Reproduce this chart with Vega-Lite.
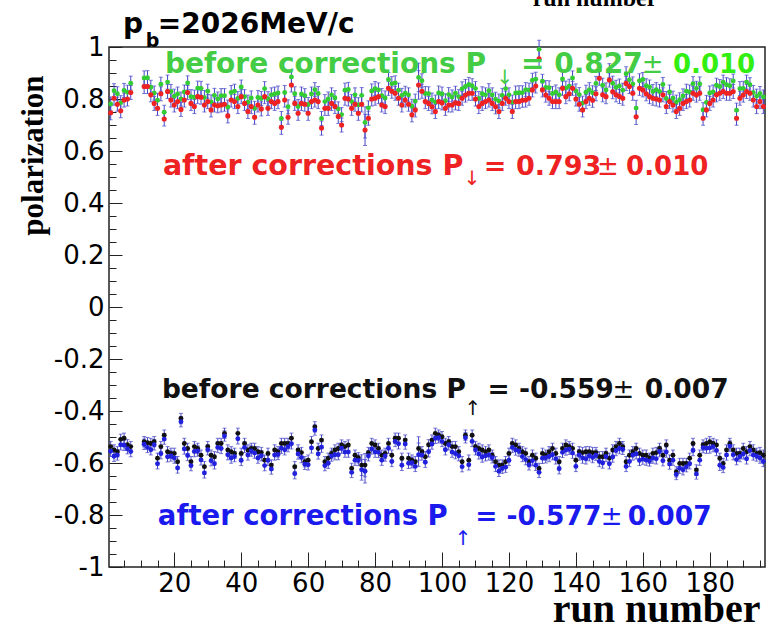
{
"$schema": "https://vega.github.io/schema/vega-lite/v6.json",
"width": 656, "height": 520,
"autosize": "none",
"padding": {"left": 109, "top": 47, "right": 2, "bottom": 63},
"background": "white",
"config": {"view": {"stroke": "#222222", "strokeWidth": 1.5}, "font": "DejaVu Sans"},
"datasets": {"runs": [
{"n":1,"g":0.781,"r":0.747,"k":-0.537,"b":-0.555,"et":0.027,"eb":0.02},
{"n":2,"g":0.832,"r":0.803,"k":-0.550,"b":-0.574,"et":0.027,"eb":0.02},
{"n":3,"g":0.820,"r":0.780,"k":-0.557,"b":-0.569,"et":0.027,"eb":0.02},
{"n":4,"g":0.786,"r":0.755,"k":-0.509,"b":-0.530,"et":0.027,"eb":0.02},
{"n":5,"g":0.833,"r":0.796,"k":-0.505,"b":-0.532,"et":0.027,"eb":0.02},
{"n":6,"g":0.826,"r":0.800,"k":-0.530,"b":-0.545,"et":0.027,"eb":0.02},
{"n":7,"g":0.861,"r":0.825,"k":-0.537,"b":-0.556,"et":0.027,"eb":0.02},
{"n":11,"g":0.881,"r":0.848,"k":-0.518,"b":-0.528,"et":0.027,"eb":0.02},
{"n":12,"g":0.882,"r":0.848,"k":-0.522,"b":-0.540,"et":0.027,"eb":0.02},
{"n":13,"g":0.845,"r":0.816,"k":-0.525,"b":-0.549,"et":0.027,"eb":0.02},
{"n":14,"g":0.823,"r":0.783,"k":-0.518,"b":-0.530,"et":0.027,"eb":0.02},
{"n":15,"g":0.795,"r":0.764,"k":-0.582,"b":-0.603,"et":0.027,"eb":0.02},
{"n":16,"g":0.857,"r":0.820,"k":-0.537,"b":-0.564,"et":0.027,"eb":0.02},
{"n":17,"g":0.749,"r":0.723,"k":-0.493,"b":-0.508,"et":0.027,"eb":0.02},
{"n":18,"g":0.865,"r":0.829,"k":-0.557,"b":-0.576,"et":0.027,"eb":0.02},
{"n":19,"g":0.829,"r":0.796,"k":-0.563,"b":-0.573,"et":0.027,"eb":0.02},
{"n":20,"g":0.811,"r":0.777,"k":-0.563,"b":-0.581,"et":0.027,"eb":0.02},
{"n":21,"g":0.819,"r":0.790,"k":-0.595,"b":-0.619,"et":0.027,"eb":0.02},
{"n":22,"g":0.800,"r":0.760,"k":-0.429,"b":-0.441,"et":0.027,"eb":0.02},
{"n":23,"g":0.827,"r":0.796,"k":-0.525,"b":-0.546,"et":0.027,"eb":0.02},
{"n":24,"g":0.862,"r":0.825,"k":-0.544,"b":-0.571,"et":0.027,"eb":0.02},
{"n":25,"g":0.809,"r":0.783,"k":-0.595,"b":-0.610,"et":0.027,"eb":0.02},
{"n":26,"g":0.807,"r":0.771,"k":-0.537,"b":-0.556,"et":0.027,"eb":0.02},
{"n":27,"g":0.842,"r":0.809,"k":-0.544,"b":-0.554,"et":0.027,"eb":0.02},
{"n":28,"g":0.841,"r":0.807,"k":-0.570,"b":-0.588,"et":0.027,"eb":0.02},
{"n":29,"g":0.806,"r":0.777,"k":-0.614,"b":-0.638,"et":0.027,"eb":0.02},
{"n":30,"g":0.830,"r":0.790,"k":-0.537,"b":-0.549,"et":0.027,"eb":0.02},
{"n":31,"g":0.789,"r":0.758,"k":-0.570,"b":-0.591,"et":0.027,"eb":0.02},
{"n":32,"g":0.814,"r":0.777,"k":-0.576,"b":-0.603,"et":0.027,"eb":0.02},
{"n":33,"g":0.800,"r":0.774,"k":-0.525,"b":-0.540,"et":0.027,"eb":0.02},
{"n":34,"g":0.813,"r":0.777,"k":-0.525,"b":-0.544,"et":0.027,"eb":0.02},
{"n":35,"g":0.813,"r":0.780,"k":-0.486,"b":-0.496,"et":0.027,"eb":0.02},
{"n":36,"g":0.769,"r":0.735,"k":-0.550,"b":-0.568,"et":0.027,"eb":0.02},
{"n":37,"g":0.825,"r":0.796,"k":-0.557,"b":-0.581,"et":0.027,"eb":0.02},
{"n":38,"g":0.830,"r":0.790,"k":-0.563,"b":-0.575,"et":0.027,"eb":0.02},
{"n":39,"g":0.802,"r":0.771,"k":-0.486,"b":-0.507,"et":0.027,"eb":0.02},
{"n":40,"g":0.846,"r":0.809,"k":-0.563,"b":-0.590,"et":0.027,"eb":0.02},
{"n":41,"g":0.809,"r":0.783,"k":-0.525,"b":-0.540,"et":0.027,"eb":0.02},
{"n":42,"g":0.788,"r":0.752,"k":-0.550,"b":-0.569,"et":0.027,"eb":0.02},
{"n":43,"g":0.804,"r":0.771,"k":-0.544,"b":-0.554,"et":0.027,"eb":0.02},
{"n":44,"g":0.764,"r":0.730,"k":-0.544,"b":-0.562,"et":0.027,"eb":0.02},
{"n":45,"g":0.806,"r":0.777,"k":-0.557,"b":-0.581,"et":0.027,"eb":0.02},
{"n":46,"g":0.802,"r":0.762,"k":-0.560,"b":-0.572,"et":0.027,"eb":0.02},
{"n":47,"g":0.840,"r":0.809,"k":-0.589,"b":-0.610,"et":0.027,"eb":0.02},
{"n":48,"g":0.801,"r":0.764,"k":-0.563,"b":-0.590,"et":0.027,"eb":0.02},
{"n":49,"g":0.816,"r":0.790,"k":-0.608,"b":-0.623,"et":0.027,"eb":0.02},
{"n":50,"g":0.819,"r":0.783,"k":-0.550,"b":-0.569,"et":0.027,"eb":0.02},
{"n":51,"g":0.823,"r":0.790,"k":-0.557,"b":-0.567,"et":0.027,"eb":0.02},
{"n":52,"g":0.725,"r":0.691,"k":-0.525,"b":-0.543,"et":0.027,"eb":0.02},
{"n":53,"g":0.825,"r":0.796,"k":-0.525,"b":-0.549,"et":0.027,"eb":0.02},
{"n":54,"g":0.770,"r":0.730,"k":-0.525,"b":-0.537,"et":0.027,"eb":0.02},
{"n":55,"g":0.885,"r":0.854,"k":-0.505,"b":-0.526,"et":0.027,"eb":0.02},
{"n":56,"g":0.820,"r":0.783,"k":-0.614,"b":-0.641,"et":0.027,"eb":0.02},
{"n":57,"g":0.771,"r":0.745,"k":-0.550,"b":-0.565,"et":0.027,"eb":0.02},
{"n":58,"g":0.819,"r":0.783,"k":-0.560,"b":-0.579,"et":0.027,"eb":0.02},
{"n":59,"g":0.813,"r":0.780,"k":-0.595,"b":-0.605,"et":0.027,"eb":0.02},
{"n":60,"g":0.779,"r":0.745,"k":-0.589,"b":-0.607,"et":0.027,"eb":0.02},
{"n":61,"g":0.819,"r":0.790,"k":-0.518,"b":-0.542,"et":0.027,"eb":0.02},
{"n":62,"g":0.836,"r":0.796,"k":-0.461,"b":-0.473,"et":0.027,"eb":0.02},
{"n":63,"g":0.821,"r":0.790,"k":-0.544,"b":-0.565,"et":0.027,"eb":0.02},
{"n":64,"g":0.725,"r":0.688,"k":-0.512,"b":-0.539,"et":0.027,"eb":0.02},
{"n":65,"g":0.790,"r":0.764,"k":-0.595,"b":-0.610,"et":0.027,"eb":0.02},
{"n":66,"g":0.800,"r":0.764,"k":-0.582,"b":-0.601,"et":0.027,"eb":0.02},
{"n":67,"g":0.816,"r":0.783,"k":-0.563,"b":-0.573,"et":0.027,"eb":0.02},
{"n":68,"g":0.805,"r":0.771,"k":-0.550,"b":-0.568,"et":0.027,"eb":0.02},
{"n":69,"g":0.762,"r":0.733,"k":-0.544,"b":-0.568,"et":0.027,"eb":0.02},
{"n":70,"g":0.740,"r":0.700,"k":-0.531,"b":-0.543,"et":0.027,"eb":0.02},
{"n":71,"g":0.834,"r":0.803,"k":-0.537,"b":-0.558,"et":0.027,"eb":0.02},
{"n":72,"g":0.837,"r":0.800,"k":-0.531,"b":-0.558,"et":0.027,"eb":0.02},
{"n":73,"g":0.790,"r":0.764,"k":-0.621,"b":-0.636,"et":0.027,"eb":0.02},
{"n":74,"g":0.816,"r":0.780,"k":-0.570,"b":-0.589,"et":0.027,"eb":0.02},
{"n":75,"g":0.778,"r":0.745,"k":-0.580,"b":-0.590,"et":0.027,"eb":0.02},
{"n":76,"g":0.814,"r":0.780,"k":-0.608,"b":-0.626,"et":0.03,"eb":0.04},
{"n":77,"g":0.710,"r":0.681,"k":-0.608,"b":-0.632,"et":0.06,"eb":0.045},
{"n":78,"g":0.766,"r":0.726,"k":-0.560,"b":-0.572,"et":0.027,"eb":0.02},
{"n":79,"g":0.831,"r":0.800,"k":-0.525,"b":-0.546,"et":0.027,"eb":0.02},
{"n":80,"g":0.840,"r":0.803,"k":-0.531,"b":-0.558,"et":0.027,"eb":0.02},
{"n":81,"g":0.835,"r":0.809,"k":-0.544,"b":-0.559,"et":0.027,"eb":0.02},
{"n":82,"g":0.813,"r":0.777,"k":-0.570,"b":-0.589,"et":0.027,"eb":0.02},
{"n":83,"g":0.804,"r":0.771,"k":-0.563,"b":-0.573,"et":0.027,"eb":0.02},
{"n":84,"g":0.875,"r":0.841,"k":-0.525,"b":-0.543,"et":0.027,"eb":0.02},
{"n":85,"g":0.859,"r":0.830,"k":-0.570,"b":-0.594,"et":0.027,"eb":0.02},
{"n":86,"g":0.862,"r":0.822,"k":-0.505,"b":-0.517,"et":0.027,"eb":0.02},
{"n":87,"g":0.834,"r":0.803,"k":-0.505,"b":-0.526,"et":0.027,"eb":0.02},
{"n":88,"g":0.814,"r":0.777,"k":-0.582,"b":-0.609,"et":0.027,"eb":0.02},
{"n":89,"g":0.822,"r":0.796,"k":-0.512,"b":-0.527,"et":0.027,"eb":0.02},
{"n":90,"g":0.816,"r":0.780,"k":-0.582,"b":-0.601,"et":0.027,"eb":0.02},
{"n":91,"g":0.772,"r":0.739,"k":-0.589,"b":-0.599,"et":0.027,"eb":0.02},
{"n":92,"g":0.792,"r":0.758,"k":-0.595,"b":-0.613,"et":0.027,"eb":0.02},
{"n":93,"g":0.883,"r":0.854,"k":-0.544,"b":-0.568,"et":0.055,"eb":0.045},
{"n":94,"g":0.870,"r":0.830,"k":-0.557,"b":-0.569,"et":0.027,"eb":0.02},
{"n":95,"g":0.821,"r":0.790,"k":-0.576,"b":-0.597,"et":0.027,"eb":0.02},
{"n":96,"g":0.820,"r":0.783,"k":-0.530,"b":-0.557,"et":0.027,"eb":0.02},
{"n":97,"g":0.796,"r":0.770,"k":-0.512,"b":-0.527,"et":0.027,"eb":0.02},
{"n":98,"g":0.788,"r":0.752,"k":-0.486,"b":-0.505,"et":0.027,"eb":0.02},
{"n":99,"g":0.823,"r":0.790,"k":-0.493,"b":-0.503,"et":0.027,"eb":0.02},
{"n":100,"g":0.819,"r":0.785,"k":-0.499,"b":-0.517,"et":0.027,"eb":0.02},
{"n":101,"g":0.793,"r":0.764,"k":-0.525,"b":-0.549,"et":0.027,"eb":0.02},
{"n":102,"g":0.817,"r":0.777,"k":-0.518,"b":-0.530,"et":0.027,"eb":0.02},
{"n":103,"g":0.808,"r":0.777,"k":-0.537,"b":-0.558,"et":0.027,"eb":0.02},
{"n":104,"g":0.822,"r":0.785,"k":-0.537,"b":-0.564,"et":0.027,"eb":0.02},
{"n":105,"g":0.809,"r":0.783,"k":-0.557,"b":-0.572,"et":0.027,"eb":0.02},
{"n":106,"g":0.839,"r":0.803,"k":-0.595,"b":-0.614,"et":0.027,"eb":0.02},
{"n":107,"g":0.848,"r":0.815,"k":-0.493,"b":-0.503,"et":0.027,"eb":0.02},
{"n":108,"g":0.856,"r":0.822,"k":-0.589,"b":-0.607,"et":0.027,"eb":0.02},
{"n":109,"g":0.851,"r":0.822,"k":-0.493,"b":-0.517,"et":0.027,"eb":0.02},
{"n":110,"g":0.840,"r":0.800,"k":-0.537,"b":-0.549,"et":0.027,"eb":0.02},
{"n":111,"g":0.802,"r":0.771,"k":-0.544,"b":-0.565,"et":0.027,"eb":0.02},
{"n":112,"g":0.820,"r":0.783,"k":-0.550,"b":-0.577,"et":0.027,"eb":0.02},
{"n":113,"g":0.816,"r":0.790,"k":-0.557,"b":-0.572,"et":0.027,"eb":0.02},
{"n":114,"g":0.832,"r":0.796,"k":-0.550,"b":-0.569,"et":0.027,"eb":0.02},
{"n":115,"g":0.816,"r":0.783,"k":-0.570,"b":-0.580,"et":0.027,"eb":0.02},
{"n":116,"g":0.799,"r":0.770,"k":-0.595,"b":-0.613,"et":0.027,"eb":0.02},
{"n":117,"g":0.792,"r":0.752,"k":-0.608,"b":-0.632,"et":0.027,"eb":0.02},
{"n":118,"g":0.814,"r":0.783,"k":-0.608,"b":-0.620,"et":0.027,"eb":0.02},
{"n":119,"g":0.840,"r":0.803,"k":-0.595,"b":-0.616,"et":0.027,"eb":0.02},
{"n":120,"g":0.816,"r":0.790,"k":-0.563,"b":-0.590,"et":0.027,"eb":0.02},
{"n":121,"g":0.788,"r":0.752,"k":-0.525,"b":-0.540,"et":0.027,"eb":0.02},
{"n":122,"g":0.823,"r":0.790,"k":-0.531,"b":-0.550,"et":0.027,"eb":0.02},
{"n":123,"g":0.824,"r":0.790,"k":-0.544,"b":-0.554,"et":0.027,"eb":0.02},
{"n":124,"g":0.824,"r":0.795,"k":-0.557,"b":-0.575,"et":0.027,"eb":0.02},
{"n":125,"g":0.836,"r":0.796,"k":-0.563,"b":-0.587,"et":0.027,"eb":0.02},
{"n":126,"g":0.834,"r":0.803,"k":-0.595,"b":-0.607,"et":0.027,"eb":0.02},
{"n":127,"g":0.872,"r":0.835,"k":-0.570,"b":-0.591,"et":0.027,"eb":0.02},
{"n":128,"g":0.876,"r":0.850,"k":-0.582,"b":-0.609,"et":0.027,"eb":0.02},
{"n":129,"g":0.991,"r":0.955,"k":-0.621,"b":-0.636,"et":0.035,"eb":0.02},
{"n":130,"g":0.868,"r":0.835,"k":-0.563,"b":-0.582,"et":0.027,"eb":0.02},
{"n":131,"g":0.844,"r":0.815,"k":-0.570,"b":-0.580,"et":0.027,"eb":0.02},
{"n":132,"g":0.843,"r":0.803,"k":-0.557,"b":-0.575,"et":0.027,"eb":0.02},
{"n":133,"g":0.821,"r":0.790,"k":-0.544,"b":-0.568,"et":0.027,"eb":0.02},
{"n":134,"g":0.827,"r":0.790,"k":-0.563,"b":-0.584,"et":0.027,"eb":0.02},
{"n":135,"g":0.816,"r":0.790,"k":-0.595,"b":-0.622,"et":0.027,"eb":0.02},
{"n":136,"g":0.877,"r":0.841,"k":-0.544,"b":-0.559,"et":0.027,"eb":0.02},
{"n":137,"g":0.842,"r":0.809,"k":-0.531,"b":-0.550,"et":0.027,"eb":0.02},
{"n":138,"g":0.849,"r":0.820,"k":-0.537,"b":-0.547,"et":0.027,"eb":0.02},
{"n":139,"g":0.881,"r":0.841,"k":-0.544,"b":-0.562,"et":0.027,"eb":0.02},
{"n":140,"g":0.831,"r":0.800,"k":-0.589,"b":-0.613,"et":0.027,"eb":0.02},
{"n":141,"g":0.817,"r":0.780,"k":-0.557,"b":-0.569,"et":0.027,"eb":0.02},
{"n":142,"g":0.784,"r":0.758,"k":-0.560,"b":-0.581,"et":0.027,"eb":0.02},
{"n":143,"g":0.826,"r":0.790,"k":-0.557,"b":-0.584,"et":0.027,"eb":0.02},
{"n":144,"g":0.836,"r":0.803,"k":-0.557,"b":-0.572,"et":0.027,"eb":0.02},
{"n":145,"g":0.824,"r":0.795,"k":-0.560,"b":-0.579,"et":0.027,"eb":0.02},
{"n":146,"g":0.860,"r":0.820,"k":-0.560,"b":-0.570,"et":0.027,"eb":0.02},
{"n":147,"g":0.911,"r":0.880,"k":-0.576,"b":-0.594,"et":0.027,"eb":0.02},
{"n":148,"g":0.853,"r":0.816,"k":-0.576,"b":-0.600,"et":0.027,"eb":0.02},
{"n":149,"g":0.835,"r":0.809,"k":-0.563,"b":-0.575,"et":0.027,"eb":0.02},
{"n":150,"g":0.909,"r":0.873,"k":-0.582,"b":-0.603,"et":0.027,"eb":0.02},
{"n":151,"g":0.861,"r":0.828,"k":-0.550,"b":-0.577,"et":0.027,"eb":0.02},
{"n":152,"g":0.845,"r":0.816,"k":-0.537,"b":-0.552,"et":0.027,"eb":0.02},
{"n":153,"g":0.850,"r":0.810,"k":-0.525,"b":-0.544,"et":0.027,"eb":0.02},
{"n":154,"g":0.834,"r":0.803,"k":-0.537,"b":-0.547,"et":0.027,"eb":0.02},
{"n":155,"g":0.897,"r":0.860,"k":-0.595,"b":-0.613,"et":0.027,"eb":0.02},
{"n":156,"g":0.874,"r":0.848,"k":-0.570,"b":-0.594,"et":0.027,"eb":0.02},
{"n":157,"g":0.858,"r":0.822,"k":-0.557,"b":-0.569,"et":0.027,"eb":0.02},
{"n":158,"g":0.765,"r":0.732,"k":-0.544,"b":-0.565,"et":0.03,"eb":0.02},
{"n":159,"g":0.870,"r":0.841,"k":-0.563,"b":-0.590,"et":0.027,"eb":0.02},
{"n":160,"g":0.875,"r":0.835,"k":-0.570,"b":-0.585,"et":0.027,"eb":0.02},
{"n":161,"g":0.851,"r":0.820,"k":-0.570,"b":-0.589,"et":0.027,"eb":0.02},
{"n":162,"g":0.846,"r":0.809,"k":-0.582,"b":-0.592,"et":0.027,"eb":0.02},
{"n":163,"g":0.829,"r":0.803,"k":-0.563,"b":-0.581,"et":0.027,"eb":0.02},
{"n":164,"g":0.836,"r":0.800,"k":-0.560,"b":-0.584,"et":0.027,"eb":0.02},
{"n":165,"g":0.829,"r":0.796,"k":-0.544,"b":-0.556,"et":0.027,"eb":0.02},
{"n":166,"g":0.856,"r":0.816,"k":-0.570,"b":-0.591,"et":0.027,"eb":0.02},
{"n":167,"g":0.802,"r":0.771,"k":-0.531,"b":-0.558,"et":0.027,"eb":0.02},
{"n":168,"g":0.827,"r":0.790,"k":-0.589,"b":-0.604,"et":0.027,"eb":0.02},
{"n":169,"g":0.803,"r":0.777,"k":-0.570,"b":-0.589,"et":0.027,"eb":0.02},
{"n":170,"g":0.788,"r":0.752,"k":-0.634,"b":-0.644,"et":0.027,"eb":0.02},
{"n":171,"g":0.797,"r":0.764,"k":-0.602,"b":-0.620,"et":0.027,"eb":0.02},
{"n":172,"g":0.812,"r":0.783,"k":-0.602,"b":-0.626,"et":0.027,"eb":0.02},
{"n":173,"g":0.830,"r":0.790,"k":-0.602,"b":-0.614,"et":0.027,"eb":0.02},
{"n":174,"g":0.827,"r":0.796,"k":-0.582,"b":-0.603,"et":0.027,"eb":0.02},
{"n":175,"g":0.859,"r":0.822,"k":-0.525,"b":-0.552,"et":0.027,"eb":0.02},
{"n":176,"g":0.841,"r":0.815,"k":-0.627,"b":-0.642,"et":0.027,"eb":0.02},
{"n":177,"g":0.858,"r":0.822,"k":-0.570,"b":-0.589,"et":0.027,"eb":0.02},
{"n":178,"g":0.759,"r":0.726,"k":-0.531,"b":-0.541,"et":0.027,"eb":0.02},
{"n":179,"g":0.787,"r":0.758,"k":-0.525,"b":-0.543,"et":0.027,"eb":0.02},
{"n":180,"g":0.823,"r":0.783,"k":-0.518,"b":-0.542,"et":0.027,"eb":0.02},
{"n":181,"g":0.827,"r":0.796,"k":-0.525,"b":-0.537,"et":0.027,"eb":0.02},
{"n":182,"g":0.853,"r":0.816,"k":-0.531,"b":-0.552,"et":0.027,"eb":0.02},
{"n":183,"g":0.848,"r":0.822,"k":-0.582,"b":-0.609,"et":0.027,"eb":0.02},
{"n":184,"g":0.865,"r":0.829,"k":-0.602,"b":-0.617,"et":0.027,"eb":0.02},
{"n":185,"g":0.855,"r":0.822,"k":-0.550,"b":-0.569,"et":0.027,"eb":0.02},
{"n":186,"g":0.851,"r":0.822,"k":-0.525,"b":-0.535,"et":0.027,"eb":0.02},
{"n":187,"g":0.869,"r":0.829,"k":-0.550,"b":-0.568,"et":0.027,"eb":0.02},
{"n":188,"g":0.757,"r":0.726,"k":-0.563,"b":-0.587,"et":0.027,"eb":0.02},
{"n":189,"g":0.840,"r":0.803,"k":-0.563,"b":-0.575,"et":0.027,"eb":0.02},
{"n":190,"g":0.841,"r":0.815,"k":-0.544,"b":-0.565,"et":0.027,"eb":0.02},
{"n":191,"g":0.865,"r":0.829,"k":-0.557,"b":-0.584,"et":0.027,"eb":0.02},
{"n":192,"g":0.855,"r":0.822,"k":-0.537,"b":-0.552,"et":0.027,"eb":0.02},
{"n":193,"g":0.825,"r":0.796,"k":-0.550,"b":-0.569,"et":0.027,"eb":0.02},
{"n":194,"g":0.811,"r":0.771,"k":-0.563,"b":-0.573,"et":0.027,"eb":0.02},
{"n":195,"g":0.821,"r":0.790,"k":-0.560,"b":-0.581,"et":0.027,"eb":0.02},
{"n":196,"g":0.808,"r":0.771,"k":-0.570,"b":-0.594,"et":0.027,"eb":0.02}
]},
"data": {"name": "runs"},
"resolve": {"axis": {"x": "independent", "y": "independent"}},
"layer": [
{"mark": {"type": "errorbar", "ticks": {"size": 4}, "color": "#4646c8", "thickness": 1},
 "encoding": {"x": {"field": "n", "type": "quantitative", "scale": {"domain": [0.5, 196.5], "nice": false, "zero": false}, "axis": null},
  "y": {"field": "g", "type": "quantitative", "scale": {"domain": [-1, 1], "nice": false}, "axis": null},
  "yError": {"field": "et"}}},
{"mark": {"type": "errorbar", "ticks": {"size": 4}, "color": "#4646c8", "thickness": 1},
 "encoding": {"x": {"field": "n", "type": "quantitative", "scale": {"domain": [0.5, 196.5], "nice": false, "zero": false}, "axis": null},
  "y": {"field": "r", "type": "quantitative", "scale": {"domain": [-1, 1], "nice": false}, "axis": null},
  "yError": {"field": "et"}}},
{"mark": {"type": "errorbar", "ticks": {"size": 4}, "color": "#4646c8", "thickness": 1},
 "encoding": {"x": {"field": "n", "type": "quantitative", "scale": {"domain": [0.5, 196.5], "nice": false, "zero": false}, "axis": null},
  "y": {"field": "k", "type": "quantitative", "scale": {"domain": [-1, 1], "nice": false}, "axis": null},
  "yError": {"field": "eb"}}},
{"mark": {"type": "errorbar", "ticks": {"size": 4}, "color": "#4646c8", "thickness": 1},
 "encoding": {"x": {"field": "n", "type": "quantitative", "scale": {"domain": [0.5, 196.5], "nice": false, "zero": false}, "axis": null},
  "y": {"field": "b", "type": "quantitative", "scale": {"domain": [-1, 1], "nice": false}, "axis": null},
  "yError": {"field": "eb"}}},
{"mark": {"type": "circle", "size": 24, "opacity": 1, "color": "#33cc33"},
 "encoding": {"x": {"field": "n", "type": "quantitative", "scale": {"domain": [0.5, 196.5], "nice": false, "zero": false},
   "axis": {"orient": "bottom", "values": [20, 40, 60, 80, 100, 120, 140, 160, 180], "domain": false, "grid": false, "tickSize": -15, "tickColor": "#222222", "tickWidth": 1, "labelFont": "DejaVu Sans", "labelFontSize": 26, "labelColor": "black", "labelPadding": 18,
    "title": "run number", "titleFont": "Liberation Serif", "titleFontSize": 40, "titleFontWeight": "bold", "titleColor": "black", "titleX": 651, "titleY": 54, "titleAlign": "right", "titleBaseline": "alphabetic", "titleAngle": 0}},
  "y": {"field": "g", "type": "quantitative", "scale": {"domain": [-1, 1], "nice": false},
   "axis": {"orient": "left", "values": [-1, -0.8, -0.6, -0.4, -0.2, 0, 0.2, 0.4, 0.6, 0.8, 1], "labelExpr": "'' + round(datum.value*10)/10", "domain": false, "grid": false, "tickSize": -13, "tickColor": "#222222", "tickWidth": 1, "labelFont": "DejaVu Sans", "labelFontSize": 26, "labelColor": "black", "labelPadding": 18,
    "title": "polarization", "titleFont": "Liberation Serif", "titleFontSize": 31, "titleFontWeight": "bold", "titleColor": "black", "titleX": -91, "titleY": 28, "titleAngle": 270, "titleAlign": "right", "titleBaseline": "top"}}}},
{"mark": {"type": "circle", "size": 26, "opacity": 1, "color": "#ee2222"},
 "encoding": {"x": {"field": "n", "type": "quantitative", "scale": {"domain": [0.5, 196.5], "nice": false, "zero": false},
   "axis": {"orient": "bottom", "values": [5,10,15,25,30,35,45,50,55,65,70,75,85,90,95,105,110,115,125,130,135,145,150,155,165,170,175,185,190,195], "domain": false, "grid": false, "labels": false, "tickSize": -7, "tickColor": "#222222", "tickWidth": 1, "title": null}},
  "y": {"field": "r", "type": "quantitative", "scale": {"domain": [-1, 1], "nice": false},
   "axis": {"orient": "left", "values": [-0.95,-0.9,-0.85,-0.75,-0.7,-0.65,-0.55,-0.5,-0.45,-0.35,-0.3,-0.25,-0.15,-0.1,-0.05,0.05,0.1,0.15,0.25,0.3,0.35,0.45,0.5,0.55,0.65,0.7,0.75,0.85,0.9,0.95], "domain": false, "grid": false, "labels": false, "tickSize": -7, "tickColor": "#222222", "tickWidth": 1, "title": null}}}},
{"mark": {"type": "circle", "size": 24, "opacity": 1, "color": "#111111"},
 "encoding": {"x": {"field": "n", "type": "quantitative", "scale": {"domain": [0.5, 196.5], "nice": false, "zero": false}, "axis": null},
  "y": {"field": "k", "type": "quantitative", "scale": {"domain": [-1, 1], "nice": false}, "axis": null}}},
{"mark": {"type": "circle", "size": 24, "opacity": 1, "color": "#2020dd"},
 "encoding": {"x": {"field": "n", "type": "quantitative", "scale": {"domain": [0.5, 196.5], "nice": false, "zero": false}, "axis": null},
  "y": {"field": "b", "type": "quantitative", "scale": {"domain": [-1, 1], "nice": false}, "axis": null}}},
{"data": {"values": [{}]},
 "layer": [
  {"mark": {"type": "text", "align": "left", "baseline": "alphabetic", "font": "DejaVu Sans", "fontWeight": "bold", "fontSize": 28, "color": "black"},
   "encoding": {"x": {"datum": 4.7, "type": "quantitative", "scale": {"domain": [0.5, 196.5], "nice": false, "zero": false}, "axis": null}, "y": {"datum": 1.054, "type": "quantitative", "scale": {"domain": [-1, 1], "nice": false}, "axis": null}, "text": {"value": "p"}}},
  {"mark": {"type": "text", "align": "left", "baseline": "alphabetic", "font": "DejaVu Sans", "fontWeight": "bold", "fontSize": 19, "color": "black"},
   "encoding": {"x": {"datum": 11.5, "type": "quantitative", "scale": {"domain": [0.5, 196.5], "nice": false, "zero": false}, "axis": null}, "y": {"datum": 1.0, "type": "quantitative", "scale": {"domain": [-1, 1], "nice": false}, "axis": null}, "text": {"value": "b"}}},
  {"mark": {"type": "text", "align": "left", "baseline": "alphabetic", "font": "DejaVu Sans", "fontWeight": "bold", "fontSize": 28, "color": "black"},
   "encoding": {"x": {"datum": 15.1, "type": "quantitative", "scale": {"domain": [0.5, 196.5], "nice": false, "zero": false}, "axis": null}, "y": {"datum": 1.054, "type": "quantitative", "scale": {"domain": [-1, 1], "nice": false}, "axis": null}, "text": {"value": "=2026MeV/c"}}},
  {"mark": {"type": "text", "align": "center", "baseline": "alphabetic", "font": "Liberation Serif", "fontWeight": "bold", "fontSize": 24, "color": "black"},
   "encoding": {"x": {"datum": 145.7, "type": "quantitative", "scale": {"domain": [0.5, 196.5], "nice": false, "zero": false}, "axis": null}, "y": {"datum": 1.158, "type": "quantitative", "scale": {"domain": [-1, 1], "nice": false}, "axis": null}, "text": {"value": "run number"}}},

  {"mark": {"type": "text", "align": "left", "baseline": "alphabetic", "font": "DejaVu Sans", "fontWeight": "bold", "fontSize": 28, "color": "#44cc44"},
   "encoding": {"x": {"datum": 17.2, "type": "quantitative", "scale": {"domain": [0.5, 196.5], "nice": false, "zero": false}, "axis": null}, "y": {"datum": 0.9, "type": "quantitative", "scale": {"domain": [-1, 1], "nice": false}, "axis": null}, "text": {"value": "before corrections P"}}},
  {"mark": {"type": "text", "align": "center", "baseline": "alphabetic", "font": "DejaVu Sans", "fontSize": 20, "color": "#44cc44"},
   "encoding": {"x": {"datum": 118.8, "type": "quantitative", "scale": {"domain": [0.5, 196.5], "nice": false, "zero": false}, "axis": null}, "y": {"datum": 0.858, "type": "quantitative", "scale": {"domain": [-1, 1], "nice": false}, "axis": null}, "text": {"value": "↓"}}},
  {"mark": {"type": "text", "align": "left", "baseline": "alphabetic", "font": "DejaVu Sans", "fontWeight": "bold", "fontSize": 28, "color": "#44cc44"},
   "encoding": {"x": {"datum": 123.6, "type": "quantitative", "scale": {"domain": [0.5, 196.5], "nice": false, "zero": false}, "axis": null}, "y": {"datum": 0.9, "type": "quantitative", "scale": {"domain": [-1, 1], "nice": false}, "axis": null}, "text": {"value": "= 0.827"}}},
  {"mark": {"type": "text", "align": "left", "baseline": "alphabetic", "font": "DejaVu Sans", "fontSize": 26, "color": "#44cc44"},
   "encoding": {"x": {"datum": 159.7, "type": "quantitative", "scale": {"domain": [0.5, 196.5], "nice": false, "zero": false}, "axis": null}, "y": {"datum": 0.9, "type": "quantitative", "scale": {"domain": [-1, 1], "nice": false}, "axis": null}, "text": {"value": "±"}}},
  {"mark": {"type": "text", "align": "left", "baseline": "alphabetic", "font": "DejaVu Sans", "fontWeight": "bold", "fontSize": 26, "color": "#33ee11"},
   "encoding": {"x": {"datum": 169.0, "type": "quantitative", "scale": {"domain": [0.5, 196.5], "nice": false, "zero": false}, "axis": null}, "y": {"datum": 0.9, "type": "quantitative", "scale": {"domain": [-1, 1], "nice": false}, "axis": null}, "text": {"value": "0.010"}}},

  {"mark": {"type": "text", "align": "left", "baseline": "alphabetic", "font": "DejaVu Sans", "fontWeight": "bold", "fontSize": 28.5, "color": "#ee2222"},
   "encoding": {"x": {"datum": 16.6, "type": "quantitative", "scale": {"domain": [0.5, 196.5], "nice": false, "zero": false}, "axis": null}, "y": {"datum": 0.508, "type": "quantitative", "scale": {"domain": [-1, 1], "nice": false}, "axis": null}, "text": {"value": "after corrections P"}}},
  {"mark": {"type": "text", "align": "center", "baseline": "alphabetic", "font": "DejaVu Sans", "fontSize": 20, "color": "#ee2222"},
   "encoding": {"x": {"datum": 109.0, "type": "quantitative", "scale": {"domain": [0.5, 196.5], "nice": false, "zero": false}, "axis": null}, "y": {"datum": 0.47, "type": "quantitative", "scale": {"domain": [-1, 1], "nice": false}, "axis": null}, "text": {"value": "↓"}}},
  {"mark": {"type": "text", "align": "left", "baseline": "alphabetic", "font": "DejaVu Sans", "fontWeight": "bold", "fontSize": 27, "color": "#ee2222"},
   "encoding": {"x": {"datum": 112.5, "type": "quantitative", "scale": {"domain": [0.5, 196.5], "nice": false, "zero": false}, "axis": null}, "y": {"datum": 0.508, "type": "quantitative", "scale": {"domain": [-1, 1], "nice": false}, "axis": null}, "text": {"value": "= 0.793"}}},
  {"mark": {"type": "text", "align": "left", "baseline": "alphabetic", "font": "DejaVu Sans", "fontSize": 26, "color": "#ee2222"},
   "encoding": {"x": {"datum": 146.3, "type": "quantitative", "scale": {"domain": [0.5, 196.5], "nice": false, "zero": false}, "axis": null}, "y": {"datum": 0.508, "type": "quantitative", "scale": {"domain": [-1, 1], "nice": false}, "axis": null}, "text": {"value": "±"}}},
  {"mark": {"type": "text", "align": "left", "baseline": "alphabetic", "font": "DejaVu Sans", "fontWeight": "bold", "fontSize": 26, "color": "#ee2222"},
   "encoding": {"x": {"datum": 155.0, "type": "quantitative", "scale": {"domain": [0.5, 196.5], "nice": false, "zero": false}, "axis": null}, "y": {"datum": 0.508, "type": "quantitative", "scale": {"domain": [-1, 1], "nice": false}, "axis": null}, "text": {"value": "0.010"}}},

  {"mark": {"type": "text", "align": "left", "baseline": "alphabetic", "font": "DejaVu Sans", "fontWeight": "bold", "fontSize": 26.5, "color": "#111111"},
   "encoding": {"x": {"datum": 16.3, "type": "quantitative", "scale": {"domain": [0.5, 196.5], "nice": false, "zero": false}, "axis": null}, "y": {"datum": -0.35, "type": "quantitative", "scale": {"domain": [-1, 1], "nice": false}, "axis": null}, "text": {"value": "before corrections P"}}},
  {"mark": {"type": "text", "align": "center", "baseline": "alphabetic", "font": "DejaVu Sans", "fontSize": 20, "color": "#111111"},
   "encoding": {"x": {"datum": 109.2, "type": "quantitative", "scale": {"domain": [0.5, 196.5], "nice": false, "zero": false}, "axis": null}, "y": {"datum": -0.415, "type": "quantitative", "scale": {"domain": [-1, 1], "nice": false}, "axis": null}, "text": {"value": "↑"}}},
  {"mark": {"type": "text", "align": "left", "baseline": "alphabetic", "font": "DejaVu Sans", "fontWeight": "bold", "fontSize": 26.5, "color": "#111111"},
   "encoding": {"x": {"datum": 113.6, "type": "quantitative", "scale": {"domain": [0.5, 196.5], "nice": false, "zero": false}, "axis": null}, "y": {"datum": -0.35, "type": "quantitative", "scale": {"domain": [-1, 1], "nice": false}, "axis": null}, "text": {"value": "= -0.559"}}},
  {"mark": {"type": "text", "align": "left", "baseline": "alphabetic", "font": "DejaVu Sans", "fontSize": 26, "color": "#111111"},
   "encoding": {"x": {"datum": 150.9, "type": "quantitative", "scale": {"domain": [0.5, 196.5], "nice": false, "zero": false}, "axis": null}, "y": {"datum": -0.35, "type": "quantitative", "scale": {"domain": [-1, 1], "nice": false}, "axis": null}, "text": {"value": "±"}}},
  {"mark": {"type": "text", "align": "left", "baseline": "alphabetic", "font": "DejaVu Sans", "fontWeight": "bold", "fontSize": 26.5, "color": "#111111"},
   "encoding": {"x": {"datum": 160.6, "type": "quantitative", "scale": {"domain": [0.5, 196.5], "nice": false, "zero": false}, "axis": null}, "y": {"datum": -0.35, "type": "quantitative", "scale": {"domain": [-1, 1], "nice": false}, "axis": null}, "text": {"value": "0.007"}}},

  {"mark": {"type": "text", "align": "left", "baseline": "alphabetic", "font": "DejaVu Sans", "fontWeight": "bold", "fontSize": 27.5, "color": "#1a1aee"},
   "encoding": {"x": {"datum": 15.1, "type": "quantitative", "scale": {"domain": [0.5, 196.5], "nice": false, "zero": false}, "axis": null}, "y": {"datum": -0.838, "type": "quantitative", "scale": {"domain": [-1, 1], "nice": false}, "axis": null}, "text": {"value": "after corrections P"}}},
  {"mark": {"type": "text", "align": "center", "baseline": "alphabetic", "font": "DejaVu Sans", "fontSize": 20, "color": "#1a1aee"},
   "encoding": {"x": {"datum": 106.3, "type": "quantitative", "scale": {"domain": [0.5, 196.5], "nice": false, "zero": false}, "axis": null}, "y": {"datum": -0.915, "type": "quantitative", "scale": {"domain": [-1, 1], "nice": false}, "axis": null}, "text": {"value": "↑"}}},
  {"mark": {"type": "text", "align": "left", "baseline": "alphabetic", "font": "DejaVu Sans", "fontWeight": "bold", "fontSize": 26.5, "color": "#1a1aee"},
   "encoding": {"x": {"datum": 109.9, "type": "quantitative", "scale": {"domain": [0.5, 196.5], "nice": false, "zero": false}, "axis": null}, "y": {"datum": -0.838, "type": "quantitative", "scale": {"domain": [-1, 1], "nice": false}, "axis": null}, "text": {"value": "= -0.577"}}},
  {"mark": {"type": "text", "align": "left", "baseline": "alphabetic", "font": "DejaVu Sans", "fontSize": 26, "color": "#1a1aee"},
   "encoding": {"x": {"datum": 147.4, "type": "quantitative", "scale": {"domain": [0.5, 196.5], "nice": false, "zero": false}, "axis": null}, "y": {"datum": -0.838, "type": "quantitative", "scale": {"domain": [-1, 1], "nice": false}, "axis": null}, "text": {"value": "±"}}},
  {"mark": {"type": "text", "align": "left", "baseline": "alphabetic", "font": "DejaVu Sans", "fontWeight": "bold", "fontSize": 26.5, "color": "#1a1aee"},
   "encoding": {"x": {"datum": 155.5, "type": "quantitative", "scale": {"domain": [0.5, 196.5], "nice": false, "zero": false}, "axis": null}, "y": {"datum": -0.838, "type": "quantitative", "scale": {"domain": [-1, 1], "nice": false}, "axis": null}, "text": {"value": "0.007"}}}
 ]}
]
}
